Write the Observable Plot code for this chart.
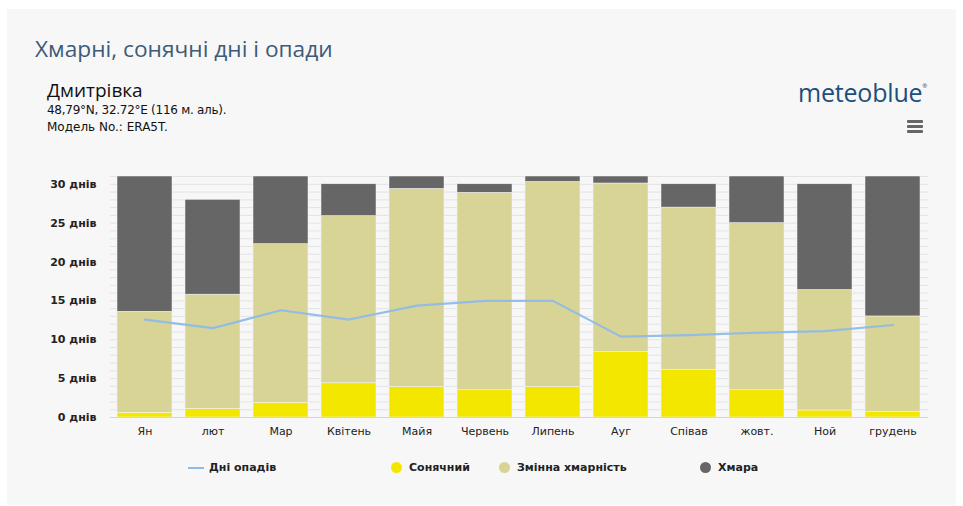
<!DOCTYPE html>
<html>
<head>
<meta charset="utf-8">
<script src="https://cdn.jsdelivr.net/npm/d3@7"></script>
<script src="https://cdn.jsdelivr.net/npm/@observablehq/plot@0.6"></script>
<style>
  html, body { margin: 0; padding: 0; background: #ffffff; }
  #panel { position: absolute; left: 7px; top: 9px; width: 949px; height: 496px; background: #f7f7f7; }
  .abs { position: absolute; white-space: nowrap; }
  #title { left: 28px; top: 24px; font-family: "Open Sans", sans-serif; font-size: 22.7px; color: #3d5b78; }
  #place { left: 40px; top: 68px; font-family: "Open Sans", sans-serif; font-size: 19px; color: #111; }
  #coord { left: 40px; top: 94px; font-family: "DejaVu Sans", sans-serif; font-size: 12px; letter-spacing: -0.27px; color: #111; }
  #model { left: 40px; top: 111px; font-family: "DejaVu Sans", sans-serif; font-size: 12px; color: #111; }
  #logo { left: 791px; top: 66px; font-family: "Open Sans", sans-serif; font-size: 25px; color: #1d4f7c; letter-spacing: -0.2px; }
  #logo sup { font-size: 6px; vertical-align: 14px; }
  #menu { left: 900px; top: 111px; width: 16px; }
  #menu div { height: 3px; background: #666; margin-bottom: 2px; border-radius: 1px; }
  #chart { left: 0px; top: 151px; }
  #legend { left: 0; top: 449px; width: 949px; height: 20px; font-family: "DejaVu Sans", sans-serif; font-size: 11px; font-weight: bold; color: #222; }
  .li { position: absolute; top: 3px; display: flex; align-items: center; }
  .dot { width: 11px; height: 11px; border-radius: 50%; margin-right: 7px; }
  .ln { width: 16px; height: 2px; background: #8fbbe8; margin-right: 5px; }
</style>
</head>
<body>
<div id="panel">
  <div id="title" class="abs">Хмарні, сонячні дні і опади</div>
  <div id="place" class="abs">Дмитрівка</div>
  <div id="coord" class="abs">48,79°N, 32.72°E (116 м. аль).</div>
  <div id="model" class="abs">Модель No.: ERA5T.</div>
  <div id="logo" class="abs">meteoblue<sup>®</sup></div>
  <div id="menu" class="abs"><div></div><div></div><div></div></div>
  <div id="chart" class="abs"></div>
  <div id="legend" class="abs">
    <div class="li" style="left:181px"><div class="ln"></div>Дні опадів</div>
    <div class="li" style="left:384px"><div class="dot" style="background:#f3e700"></div>Сонячний</div>
    <div class="li" style="left:492px"><div class="dot" style="background:#d8d495"></div>Змінна хмарність</div>
    <div class="li" style="left:693px"><div class="dot" style="background:#666666"></div>Хмара</div>
  </div>
</div>
<script>
const months = ["Ян", "лют", "Мар", "Квітень", "Майя", "Червень", "Липень", "Ауг", "Співав", "жовт.", "Ной", "грудень"];
const sunny = [0.6, 1.1, 1.9, 4.4, 3.9, 3.5, 3.9, 8.4, 6.1, 3.5, 0.9, 0.7];
const partly = [13.0, 14.7, 20.4, 21.5, 25.5, 25.4, 26.4, 21.7, 20.9, 21.5, 15.5, 12.3];
const overcast = [17.4, 12.2, 8.7, 4.1, 1.6, 1.1, 0.7, 0.9, 3.0, 6.0, 13.6, 18.0];
const precipDays = [12.6, 11.5, 13.8, 12.6, 14.4, 15.0, 15.0, 10.4, 10.6, 10.9, 11.1, 11.9];
const yTicks = [0, 5, 10, 15, 20, 25, 30];
const seriesNames = ["Сонячний", "Змінна хмарність", "Хмара"];
const seriesColors = ["#f3e700", "#d8d495", "#666666"];

const rows = [];
months.forEach((m, i) => {
  rows.push({month: m, type: seriesNames[0], value: sunny[i]});
  rows.push({month: m, type: seriesNames[1], value: partly[i]});
  rows.push({month: m, type: seriesNames[2], value: overcast[i]});
});
const lineData = months.map((m, i) => ({month: m, value: precipDays[i]}));
const gridVals = d3.range(0, 32, 1);

const chart = Plot.plot({
  width: 949,
  height: 290,
  marginLeft: 103,
  marginRight: 28,
  marginTop: 16,
  marginBottom: 33,
  style: {background: "transparent", fontFamily: "DejaVu Sans, sans-serif", fontSize: "11px", color: "#333"},
  x: {domain: months, paddingInner: 0.19, paddingOuter: 0.095, label: null, tickSize: 0, tickPadding: 10},
  y: {domain: [0, 31], label: null, ticks: yTicks, tickSize: 0, tickPadding: 14, tickFormat: d => d + " днів"},
  color: {domain: seriesNames, range: seriesColors},
  marks: [
    Plot.ruleY(gridVals, {stroke: "#e3e3e3", strokeWidth: 1}),
    Plot.barY(rows, Plot.stackY({order: seriesNames, x: "month", y: "value", fill: "type", stroke: "#f7f7f7", strokeWidth: 0.5})),
    Plot.ruleY([0], {stroke: "#ccd6eb", strokeWidth: 1}),
    Plot.line(lineData, {x: "month", y: "value", stroke: "#8fbbe8", strokeWidth: 2.2, strokeOpacity: 0.95}),
    Plot.axisX({tickSize: 0, tickPadding: 10, fill: "#222", fontSize: 11}),
    Plot.axisY({ticks: yTicks, tickSize: 0, tickPadding: 14, tickFormat: d => d + " днів", fill: "#222", fontWeight: "bold", fontSize: 11})
  ]
});
document.getElementById("chart").appendChild(chart);
</script>
</body>
</html>
